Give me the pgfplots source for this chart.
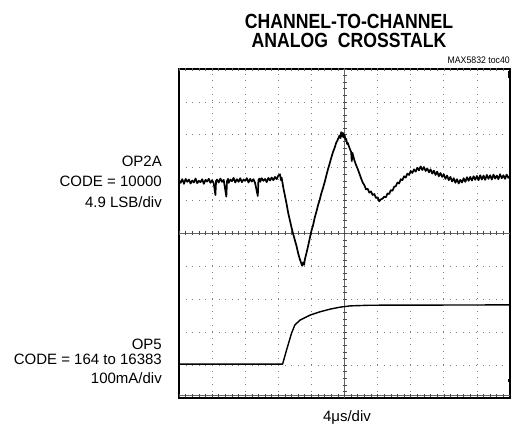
\documentclass[border=0pt]{standalone}
\usepackage{pgfplots}
\pgfplotsset{compat=1.18}
\usepackage{fontspec}
\setmainfont{Liberation Sans}
\begin{document}
\begin{tikzpicture}
\path[use as bounding box] (0,0) rectangle (511bp,436bp);
% title
\node[anchor=base] at (349bp,407.3bp) {\scalebox{0.86}[1]{\fontsize{20.5bp}{24bp}\selectfont\bfseries CHANNEL-TO-CHANNEL}};
\node[anchor=base] at (349bp,388.3bp) {\scalebox{0.86}[1]{\fontsize{20.5bp}{24bp}\selectfont\bfseries ANALOG\ \ CROSSTALK}};
\node[anchor=base east, inner sep=0pt] at (510bp,372.5bp) {\scalebox{0.92}[1]{\fontsize{9.5bp}{11bp}\selectfont MAX5832 toc40}};
% left labels
\begin{scope}[every node/.style={anchor=base east, inner sep=0pt, font=\fontsize{15bp}{18bp}\selectfont}]
\node at (162bp,269.3bp) {OP2A};
\node at (162bp,249.3bp) {CODE = 10000};
\node at (162bp,228.7bp) {4.9 LSB/div};
\node at (162bp,86.7bp) {OP5};
\node at (162bp,71.7bp) {CODE = 164 to 16383};
\node at (162bp,52bp) {100mA/div};
\end{scope}
\node[anchor=base, inner sep=0pt, font=\fontsize{15bp}{18bp}\selectfont] at (347bp,15bp) {4μs/div};
\begin{axis}[at={(179bp,38bp)}, anchor=south west, width=331bp, height=329bp, scale only axis,
  xmin=0, xmax=10, ymin=0, ymax=10,
  xtick={1,...,9}, ytick={1,...,9}, xticklabels={}, yticklabels={},
  major tick length=0pt, grid=major,
  grid style={black!50, line width=0.7bp, dash pattern=on 0.7bp off 5.9bp},
  axis line style={line width=1.6bp},
  clip=true]
% center cross with ruler ticks
\draw[black!60, line width=0.5bp] (axis cs:0,5) -- (axis cs:10,5);
\draw[black!60, line width=0.5bp] (axis cs:5,0) -- (axis cs:5,10);
\draw[black!70, line width=4bp, dash pattern=on 0.6bp off 6.02bp, dash phase=0.3bp] (axis cs:0,5) -- (axis cs:10,5);
\draw[black!70, line width=4bp, dash pattern=on 0.6bp off 5.98bp, dash phase=0.3bp] (axis cs:5,0) -- (axis cs:5,10);
% top and bottom graticule ticks
\draw[black!60, line width=0.5bp] (axis cs:0,0.08) -- (axis cs:10,0.08);
\draw[black!70, line width=3bp, dash pattern=on 0.6bp off 6.02bp, dash phase=0.3bp] (axis cs:0,0.08) -- (axis cs:10,0.08);
\draw[black!60, line width=3.5bp, dash pattern=on 0.6bp off 6.02bp, dash phase=0.3bp] (axis cs:0,10) -- (axis cs:10,10);
% channel markers
\fill (axis cs:9.93,9.93) rectangle (axis cs:10,9.72);
\fill (axis cs:9.95,0.58) rectangle (axis cs:10,0.48);
% OP2A trace
\addplot[black, line width=1.7bp, line join=round] coordinates {
(0.00,6.62)(0.05,6.54)(0.10,6.65)(0.15,6.51)(0.20,6.66)(0.25,6.57)(0.30,6.64)(0.35,6.52)(0.40,6.61)(0.45,6.55)
(0.50,6.67)(0.55,6.53)(0.60,6.60)(0.65,6.56)(0.70,6.65)(0.75,6.51)(0.80,6.63)(0.85,6.58)(0.90,6.66)(0.95,6.54)
(1.00,6.62)(1.05,6.52)(1.10,6.17)(1.12,6.60)(1.15,6.64)(1.20,6.55)(1.25,6.67)(1.30,6.57)(1.35,6.63)(1.43,6.12)
(1.45,6.59)(1.48,6.66)(1.50,6.54)(1.55,6.64)(1.60,6.59)(1.65,6.69)(1.70,6.55)(1.75,6.65)(1.80,6.57)(1.85,6.68)
(1.90,6.56)(1.95,6.64)(2.00,6.60)(2.05,6.68)(2.10,6.55)(2.15,6.66)(2.20,6.58)(2.25,6.65)(2.30,6.53)(2.38,6.14)
(2.40,6.62)(2.43,6.67)(2.45,6.57)(2.50,6.68)(2.55,6.60)(2.60,6.66)(2.65,6.56)(2.70,6.69)(2.75,6.61)(2.80,6.70)
(2.85,6.62)(2.90,6.72)(2.95,6.65)(3.00,6.76)(3.05,6.80)(3.08,6.62)(3.10,6.70)(3.15,6.40)(3.20,6.15)(3.25,5.90)
(3.30,5.62)(3.35,5.40)(3.40,5.18)(3.45,4.98)(3.50,4.80)(3.55,4.62)(3.60,4.40)(3.65,4.22)(3.70,4.08)(3.72,4.02)
(3.75,4.12)(3.78,4.05)(3.80,4.20)(3.85,4.40)(3.90,4.62)(3.95,4.85)(4.00,5.08)(4.05,5.25)(4.10,5.48)(4.15,5.66)
(4.20,5.86)(4.25,6.02)(4.30,6.22)(4.35,6.38)(4.40,6.56)(4.45,6.76)(4.50,6.95)(4.55,7.12)(4.60,7.30)(4.65,7.47)
(4.70,7.60)(4.75,7.76)(4.80,7.86)(4.85,7.98)(4.88,7.90)(4.90,8.08)(4.93,7.95)(4.95,8.06)(4.98,7.92)(5.00,8.00)
(5.03,7.85)(5.05,7.88)(5.08,7.72)(5.10,7.75)(5.15,7.60)(5.20,7.48)(5.22,7.20)(5.24,7.45)(5.30,7.22)(5.35,7.08)
(5.40,6.96)(5.45,6.82)(5.50,6.68)(5.55,6.55)(5.60,6.47)(5.65,6.34)(5.70,6.36)(5.75,6.24)(5.80,6.28)(5.85,6.17)
(5.90,6.20)(5.95,6.08)(6.00,6.10)(6.05,5.98)(6.10,6.04)(6.15,6.06)(6.20,6.12)(6.25,6.10)(6.30,6.22)(6.35,6.20)
(6.40,6.32)(6.45,6.30)(6.50,6.42)(6.55,6.44)(6.60,6.55)(6.65,6.52)(6.70,6.65)(6.75,6.62)(6.80,6.74)(6.85,6.70)
(6.90,6.82)(6.95,6.78)(7.00,6.90)(7.05,6.84)(7.10,6.95)(7.15,6.88)(7.20,7.00)(7.25,6.92)(7.30,7.04)(7.35,6.93)
(7.40,7.02)(7.45,6.90)(7.50,6.98)(7.55,6.86)(7.60,6.95)(7.65,6.82)(7.70,6.91)(7.75,6.78)(7.80,6.88)(7.85,6.74)
(7.90,6.84)(7.95,6.72)(8.00,6.80)(8.05,6.66)(8.10,6.76)(8.15,6.62)(8.20,6.72)(8.25,6.58)(8.30,6.68)(8.35,6.54)
(8.40,6.65)(8.45,6.52)(8.50,6.63)(8.55,6.55)(8.60,6.68)(8.65,6.57)(8.70,6.71)(8.75,6.60)(8.80,6.72)(8.85,6.61)
(8.90,6.74)(8.95,6.63)(9.00,6.75)(9.05,6.62)(9.10,6.77)(9.15,6.64)(9.20,6.76)(9.25,6.63)(9.30,6.78)(9.35,6.66)
(9.40,6.77)(9.45,6.64)(9.50,6.79)(9.55,6.67)(9.60,6.76)(9.65,6.65)(9.70,6.80)(9.75,6.68)(9.80,6.77)(9.85,6.66)
(9.90,6.79)(9.95,6.69)(10.00,6.75)
};
% OP5 trace
\addplot[black, line width=1.4bp, line join=round] coordinates {
(0,1.03)(3.13,1.03)(3.25,1.46)(3.40,1.97)(3.50,2.22)(3.66,2.37)(3.96,2.52)(4.26,2.62)(4.56,2.70)(4.86,2.76)(5.17,2.80)(5.77,2.82)(10,2.83)
};
\end{axis}
\end{tikzpicture}
\end{document}
